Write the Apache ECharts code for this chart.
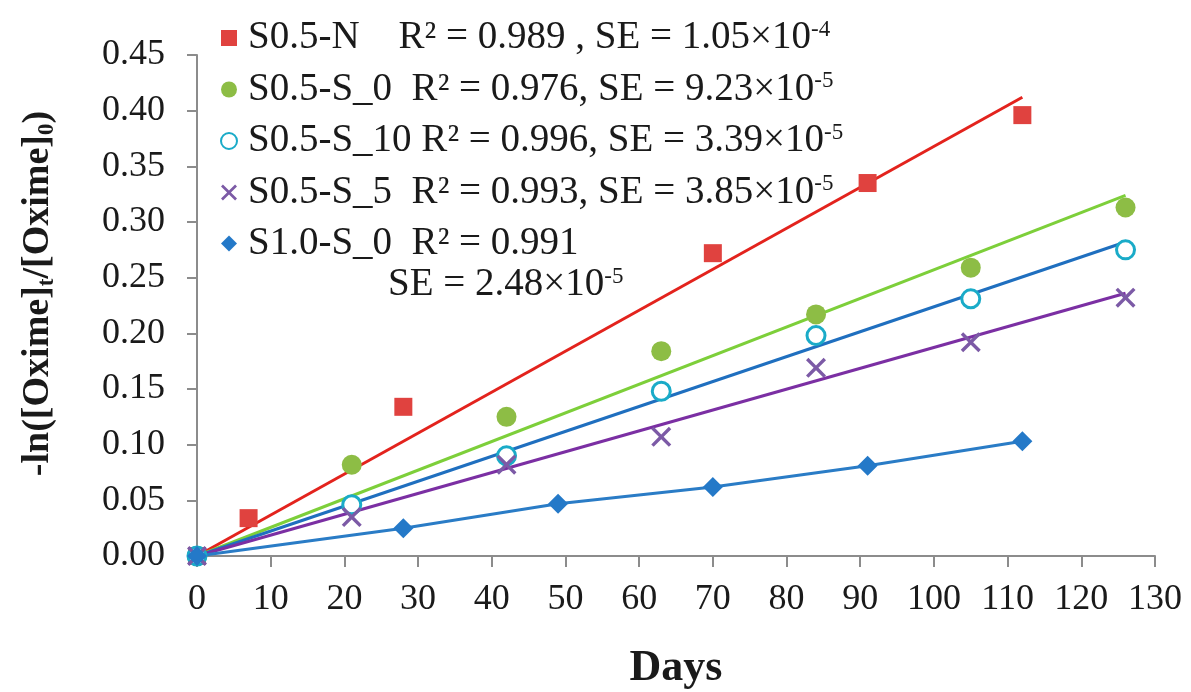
<!DOCTYPE html>
<html><head><meta charset="utf-8">
<script src="https://cdn.jsdelivr.net/npm/echarts@6/dist/echarts.min.js"></script>
<style>html,body{margin:0;padding:0;background:#fff}#c{width:1191px;height:692px}</style>
</head><body><div id="c"></div>
<script>
// ---- data ----
const seriesNames = ['S0.5-N', 'S0.5-S_0', 'S0.5-S_10', 'S0.5-S_5', 'S1.0-S_0'];
const nameGaps = ['    ', '  ', ' ', '  ', '  '];
const statsText = ['R² = 0.989 , SE = 1.05×10', 'R² = 0.976, SE = 9.23×10', 'R² = 0.996, SE = 3.39×10', 'R² = 0.993, SE = 3.85×10', 'R² = 0.991'];
const statsExp = ['-4', '-5', '-5', '-5', ''];
const extraSEText = 'SE = 2.48×10';
const extraSEExp = '-5';

const daysN = [0, 7, 28, 70, 91, 112];
const valsN = [0, 0.034, 0.134, 0.272, 0.335, 0.396];
const daysS = [0, 21, 42, 63, 84, 105, 126];
const valsS0 = [0, 0.082, 0.125, 0.184, 0.217, 0.259, 0.313];
const valsS10 = [0, 0.046, 0.090, 0.148, 0.198, 0.231, 0.275];
const valsS5 = [0, 0.035, 0.082, 0.107, 0.169, 0.192, 0.232];
const days10 = [0, 28, 49, 70, 91, 112];
const vals10 = [0, 0.025, 0.047, 0.062, 0.081, 0.103];

// trend-line end points
const fitN = [[0, 0], [112, 0.412]];
const fitS0 = [[0, 0], [126, 0.324]];
const fitS10 = [[0, 0], [126, 0.282]];
const fitS5 = [[0, 0], [126, 0.236]];

const xMin = 0, xMax = 130, xStep = 10;
const yMin = 0, yMax = 0.45, yStep = 0.05;

// ---- styling ----
const FONT = "'Liberation Serif', 'Times New Roman', serif";
const zip = (xs, ys) => xs.map((x, i) => [x, ys[i]]);
const crossPath = 'path://M1.2,0 L5,3.8 L8.8,0 L10,1.2 L6.2,5 L10,8.8 L8.8,10 L5,6.2 L1.2,10 L0,8.8 L3.8,5 L0,1.2 Z';

function fitLine(name, data, color) {
  return { name: name, type: 'line', data: data, symbol: 'none', silent: true,
    lineStyle: { color: color, width: 3 }, z: 2 };
}

const chart = echarts.init(document.getElementById('c'), null, { renderer: 'canvas' });
const option = {
  backgroundColor: '#fff',
  animation: false,
  textStyle: { fontFamily: FONT },
  grid: { left: 197, right: 36, top: 55, bottom: 136, containLabel: false, outerBoundsMode: 'none' },
  legend: {
    data: seriesNames,
    orient: 'vertical', left: 215, top: 13,
    itemWidth: 16, itemHeight: 16, itemGap: 12,
    selectedMode: false,
    formatter: function (name) {
      const i = seriesNames.indexOf(name);
      let s = '{n|' + name + nameGaps[i] + statsText[i] + '}';
      if (statsExp[i]) s += '{s|' + statsExp[i] + '}';
      return s;
    },
    textStyle: {
      fontFamily: FONT, color: '#1a1a1a',
      rich: {
        n: { fontFamily: FONT, fontSize: 39, lineHeight: 40, color: '#1a1a1a', padding: [0, 0, 0, 6] },
        s: { fontFamily: FONT, fontSize: 23, lineHeight: 22, color: '#1a1a1a', verticalAlign: 'top' }
      }
    }
  },
  graphic: [{
    type: 'text', left: 388, top: 265, z: 10,
    style: {
      text: '{n|' + extraSEText + '}{s|' + extraSEExp + '}',
      rich: {
        n: { fontFamily: FONT, fontSize: 39, lineHeight: 40, fill: '#1a1a1a' },
        s: { fontFamily: FONT, fontSize: 23, lineHeight: 22, fill: '#1a1a1a', verticalAlign: 'top' }
      }
    }
  }],
  xAxis: {
    type: 'value', min: xMin, max: xMax, interval: xStep,
    name: 'Days', nameLocation: 'middle', nameGap: 91,
    nameTextStyle: { fontFamily: FONT, fontSize: 44, fontWeight: 'bold', color: '#1a1a1a' },
    axisLine: { show: true, onZero: false, lineStyle: { color: '#8c8c8c', width: 2 } },
    axisTick: { show: true, inside: false, length: 11, lineStyle: { color: '#8c8c8c', width: 2 } },
    axisLabel: { fontFamily: FONT, fontSize: 36, color: '#1a1a1a', margin: 26 },
    splitLine: { show: false }
  },
  yAxis: {
    type: 'value', min: yMin, max: yMax, interval: yStep,
    name: '-ln([Oxime]{sub|t}/[Oxime]{sub|0})', nameLocation: 'middle', nameGap: 138, nameRotate: 90,
    nameTextStyle: { fontFamily: FONT, fontSize: 38, fontWeight: 'bold', color: '#1a1a1a', padding: [0, 0, 0, 24],
      rich: { sub: { fontFamily: FONT, fontSize: 23, fontWeight: 'bold', color: '#1a1a1a', verticalAlign: 'bottom', lineHeight: 42 } } },
    axisLine: { show: true, onZero: false, lineStyle: { color: '#8c8c8c', width: 2 } },
    axisTick: { show: true, inside: false, length: 10, lineStyle: { color: '#8c8c8c', width: 2 } },
    axisLabel: { fontFamily: FONT, fontSize: 36, color: '#1a1a1a', margin: 32,
      formatter: v => v.toFixed(2) },
    splitLine: { show: false }
  },
  series: [
    fitLine('fit N', fitN, '#e3231d'),
    fitLine('fit S0', fitS0, '#7dcf3a'),
    fitLine('fit S10', fitS10, '#1f6fbf'),
    fitLine('fit S5', fitS5, '#7b2fa3'),
    { name: 'line 1.0', type: 'line', data: zip(days10, vals10), symbol: 'none', silent: true,
      lineStyle: { color: '#2a7cc6', width: 3 }, z: 2 },
    { name: seriesNames[0], type: 'scatter', data: zip(daysN, valsN), symbol: 'rect', symbolSize: 18,
      itemStyle: { color: '#e0423f', opacity: 1 }, z: 3 },
    { name: seriesNames[1], type: 'scatter', data: zip(daysS, valsS0), symbol: 'circle', symbolSize: 20,
      itemStyle: { color: '#8dbd45', opacity: 1 }, z: 3 },
    { name: seriesNames[2], type: 'scatter', data: zip(daysS, valsS10), symbol: 'circle', symbolSize: 18,
      itemStyle: { color: '#ffffff', borderColor: '#1aabc8', borderWidth: 3, opacity: 1 }, z: 4 },
    { name: seriesNames[3], type: 'scatter', data: zip(daysS, valsS5), symbol: crossPath, symbolSize: 20,
      itemStyle: { color: '#7c5aa6', opacity: 1 }, z: 4 },
    { name: seriesNames[4], type: 'scatter', data: zip(days10, vals10), symbol: 'diamond', symbolSize: 20,
      itemStyle: { color: '#2479c8', opacity: 1 }, z: 5 }
  ]
};
chart.setOption(option);
</script>
</body></html>
